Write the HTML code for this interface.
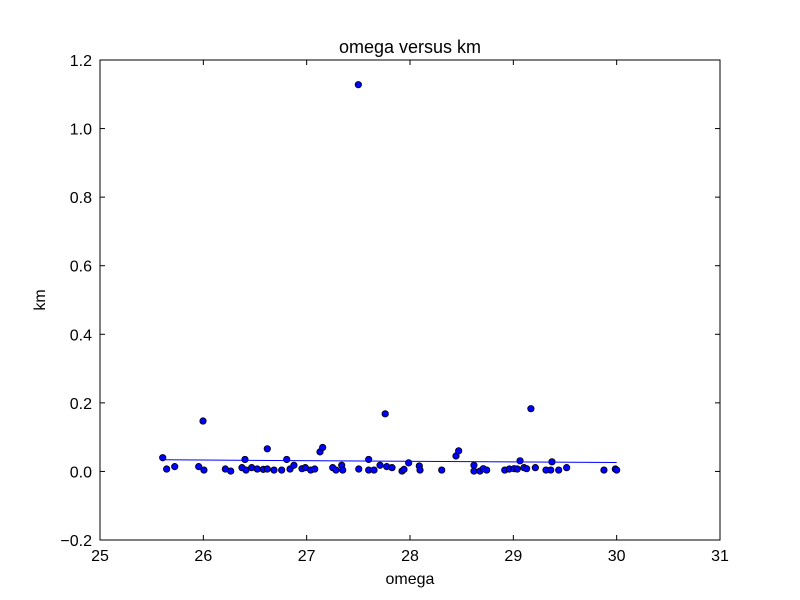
<!DOCTYPE html>
<html><head><meta charset="utf-8"><style>
body{margin:0;background:#fff}
svg{display:block;font-family:"Liberation Sans",sans-serif}
</style></head><body>
<svg id="chart" width="800" height="600">
<rect width="800" height="600" fill="#fff"/>
</svg>
<script>
const xs=[25.607,25.645,25.723,25.955,26.006,26.213,26.265,26.374,26.403,26.413,26.468,26.522,26.580,26.619,26.619,26.684,26.758,26.807,26.839,26.877,26.955,26.987,27.039,27.078,27.129,27.155,27.252,27.284,27.339,27.349,27.504,27.600,27.600,27.652,27.710,27.775,27.826,27.923,27.942,27.987,28.090,28.097,28.307,28.445,28.471,28.619,28.619,28.677,28.709,28.742,28.917,28.961,29.007,29.038,29.065,29.103,29.129,29.213,29.316,29.362,29.374,29.439,29.516,29.877,29.987,30.000,25.997,27.500,27.760,29.170];
const ys=[0.040,0.007,0.014,0.014,0.004,0.007,0.001,0.011,0.035,0.004,0.011,0.007,0.006,0.066,0.007,0.004,0.004,0.035,0.007,0.018,0.008,0.011,0.004,0.007,0.057,0.070,0.011,0.004,0.018,0.004,0.007,0.035,0.004,0.004,0.018,0.014,0.011,0.001,0.006,0.025,0.016,0.004,0.004,0.045,0.060,0.018,0.001,0.001,0.008,0.004,0.004,0.007,0.008,0.007,0.031,0.011,0.008,0.011,0.004,0.004,0.028,0.004,0.011,0.004,0.007,0.004,0.147,1.128,0.168,0.183];
const fitXs=[25.607,30.0];
const fitYs=[0.034,0.026];
const xTicks=[25,26,27,28,29,30,31];
const yTicks=[-0.2,0,0.2,0.4,0.6,0.8,1.0,1.2];
const L=100,R=720,T=60,B=540,x0=25,x1=31,y0=-0.2,y1=1.2;
const sx=v=>L+(v-x0)/(x1-x0)*(R-L), sy=v=>B-(v-y0)/(y1-y0)*(B-T);
const svg=document.getElementById('chart'),NS='http://www.w3.org/2000/svg';
function mk(t,a,p){const e=document.createElementNS(NS,t);for(const k in a)e.setAttribute(k,a[k]);(p||svg).appendChild(e);return e;}
const n=xs.length;
const pts=mk('g',{});


for(let i=0;i<n;i++){const c=mk('circle',{cx:sx(xs[i]),cy:sy(ys[i]),r:3.2,fill:'#0000ff',stroke:'#000','stroke-width':0.8},pts);

}
const fl=mk('line',{x1:sx(fitXs[0]),y1:sy(fitYs[0]),x2:sx(fitXs[1]),y2:sy(fitYs[1]),stroke:'#0000ff','stroke-width':1});


const fr=mk('rect',{x:L,y:T,width:R-L,height:B-T,fill:'none',stroke:'#000','stroke-width':1});


xTicks.forEach(v=>{const x=sx(v);
mk('line',{x1:x,y1:B,x2:x,y2:B-5,stroke:'#000'});mk('line',{x1:x,y1:T,x2:x,y2:T+5,stroke:'#000'});
const t=mk('text',{x:x,y:B+21,'text-anchor':'middle','font-size':16});t.textContent=String(v);

});
yTicks.forEach(v=>{const y=sy(v);
mk('line',{x1:L,y1:y,x2:L+5,y2:y,stroke:'#000'});mk('line',{x1:R,y1:y,x2:R-5,y2:y,stroke:'#000'});
const t=mk('text',{x:L-8,y:y+6,'text-anchor':'end','font-size':16});t.textContent=(v<0?'\u2212':'')+Math.abs(v).toFixed(1);

});
let t=mk('text',{x:410,y:53,'text-anchor':'middle','font-size':18});t.textContent='omega versus km';


t=mk('text',{x:410,y:584,'text-anchor':'middle','font-size':16});t.textContent='omega';


t=mk('text',{x:45,y:300,'text-anchor':'middle','font-size':16,transform:'rotate(-90 45 300)'});t.textContent='km';


</script>
</body></html>
